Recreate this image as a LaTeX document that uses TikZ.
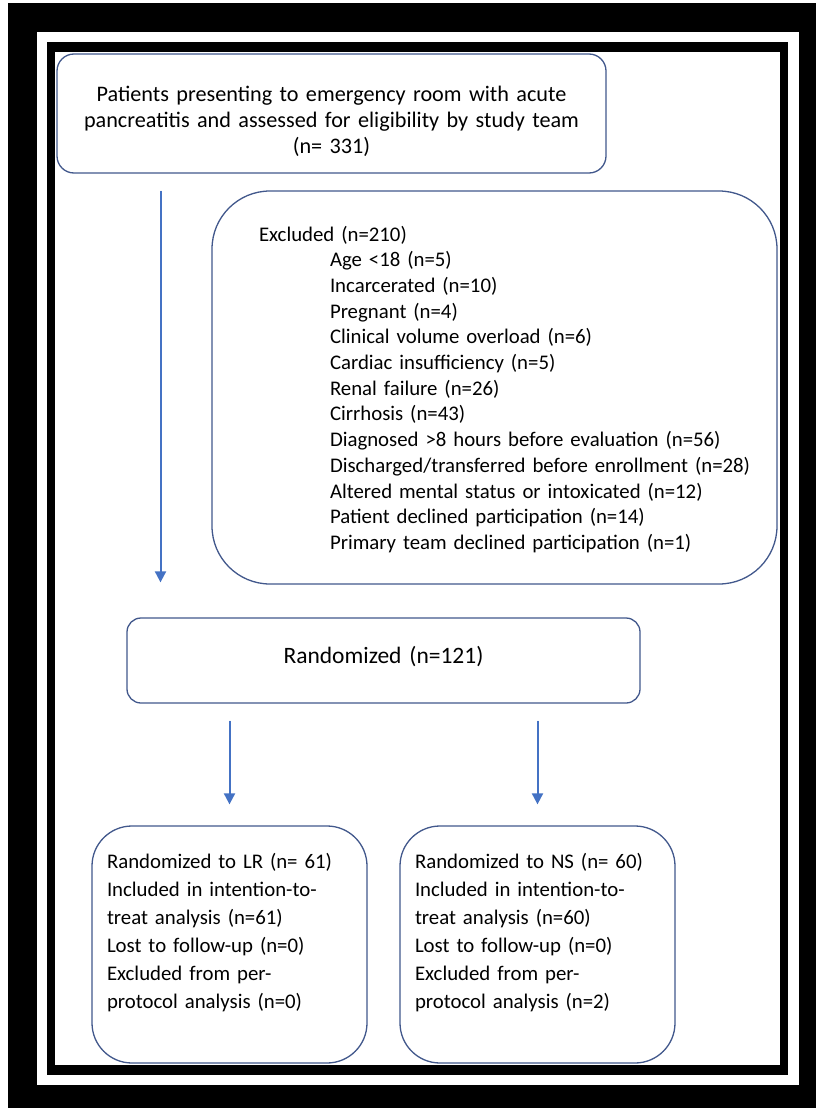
\documentclass[tikz,border=0pt]{standalone}
\usepackage{fontspec}
\setmainfont{Carlito}
\usetikzlibrary{arrows.meta,positioning}
\definecolor{boxline}{RGB}{66,88,140}
\definecolor{arrowblue}{RGB}{68,114,196}

\begin{document}
\begin{tikzpicture}[x=1pt,y=-1pt,
  box/.style={draw=boxline,line width=1.3pt,fill=white,inner sep=0pt},
  arr/.style={-{Triangle[length=11pt,width=11pt]},draw=arrowblue,fill=arrowblue,line width=2pt}]
% frame round the page
\useasboundingbox (0,0) rectangle (816,1108);
\fill[black] (8,3) rectangle (816,1108);
\fill[white] (36.7,32.3) rectangle (799,1085);
\fill[black] (46.7,42.3) rectangle (788.3,1075);
\fill[white] (55,52.5) rectangle (780,1065);

% boxes
\node[box,rounded corners=17pt,text width=549pt,align=center,text height=47pt,text depth=72pt,
  font=\fontsize{22.2pt}{26pt}\selectfont] (assessed) at (331.5,113.5)
  {Patients presenting to emergency room with acute\\pancreatitis and assessed for eligibility by study team\\(n= 331)};
\node[box,rounded corners=58pt,text width=565pt,align=left,text height=50pt,text depth=343pt,
  font=\fontsize{20.8pt}{25.7pt}\selectfont] (excluded) at (494.5,387.5)
  {\hspace*{47pt}Excluded (n=210)\\
   \hspace*{118pt}Age <18 (n=5)\\
   \hspace*{118pt}Incarcerated (n=10)\\
   \hspace*{118pt}Pregnant (n=4)\\
   \hspace*{118pt}Clinical volume overload (n=6)\\
   \hspace*{118pt}Cardiac insufficiency (n=5)\\
   \hspace*{118pt}Renal failure (n=26)\\
   \hspace*{118pt}Cirrhosis (n=43)\\
   \hspace*{118pt}Diagnosed >8 hours before evaluation (n=56)\\
   \hspace*{118pt}Discharged/transferred before enrollment (n=28)\\
   \hspace*{118pt}Altered mental status or intoxicated (n=12)\\
   \hspace*{118pt}Patient declined participation (n=14)\\
   \hspace*{118pt}Primary team declined participation (n=1)};
\node[box,rounded corners=14pt,text width=513pt,align=center,text height=45pt,text depth=40pt,
  font=\fontsize{23.5pt}{25pt}\selectfont] (randomized) at (383.5,660.5) {Randomized (n=121)};
\node[box,rounded corners=40pt,inner xsep=15pt,text width=245pt,align=left,text height=42pt,text depth=195pt,
  font=\fontsize{20.8pt}{28pt}\selectfont] (lr) at (229.5,944.5)
  {Randomized to LR (n= 61)\\Included in intention-to-\\treat analysis (n=61)\\Lost to follow-up (n=0)\\Excluded from per-\\protocol analysis (n=0)};
\node[box,rounded corners=40pt,inner xsep=15pt,text width=245pt,align=left,text height=42pt,text depth=195pt,
  font=\fontsize{20.8pt}{28pt}\selectfont] (ns) at (537.5,944.5)
  {Randomized to NS (n= 60)\\Included in intention-to-\\treat analysis (n=60)\\Lost to follow-up (n=0)\\Excluded from per-\\protocol analysis (n=2)};

% arrows
\coordinate (spine) at (160.5,400);
\draw[arr] ([yshift=-17pt]assessed.south -| spine) -- ([yshift=35pt]randomized.north -| spine);
\draw[arr] ([yshift=-17pt]randomized.south -| lr) -- ([yshift=21pt]lr.north);
\draw[arr] ([yshift=-17pt]randomized.south -| ns) -- ([yshift=21pt]ns.north);
\end{tikzpicture}
\end{document}
